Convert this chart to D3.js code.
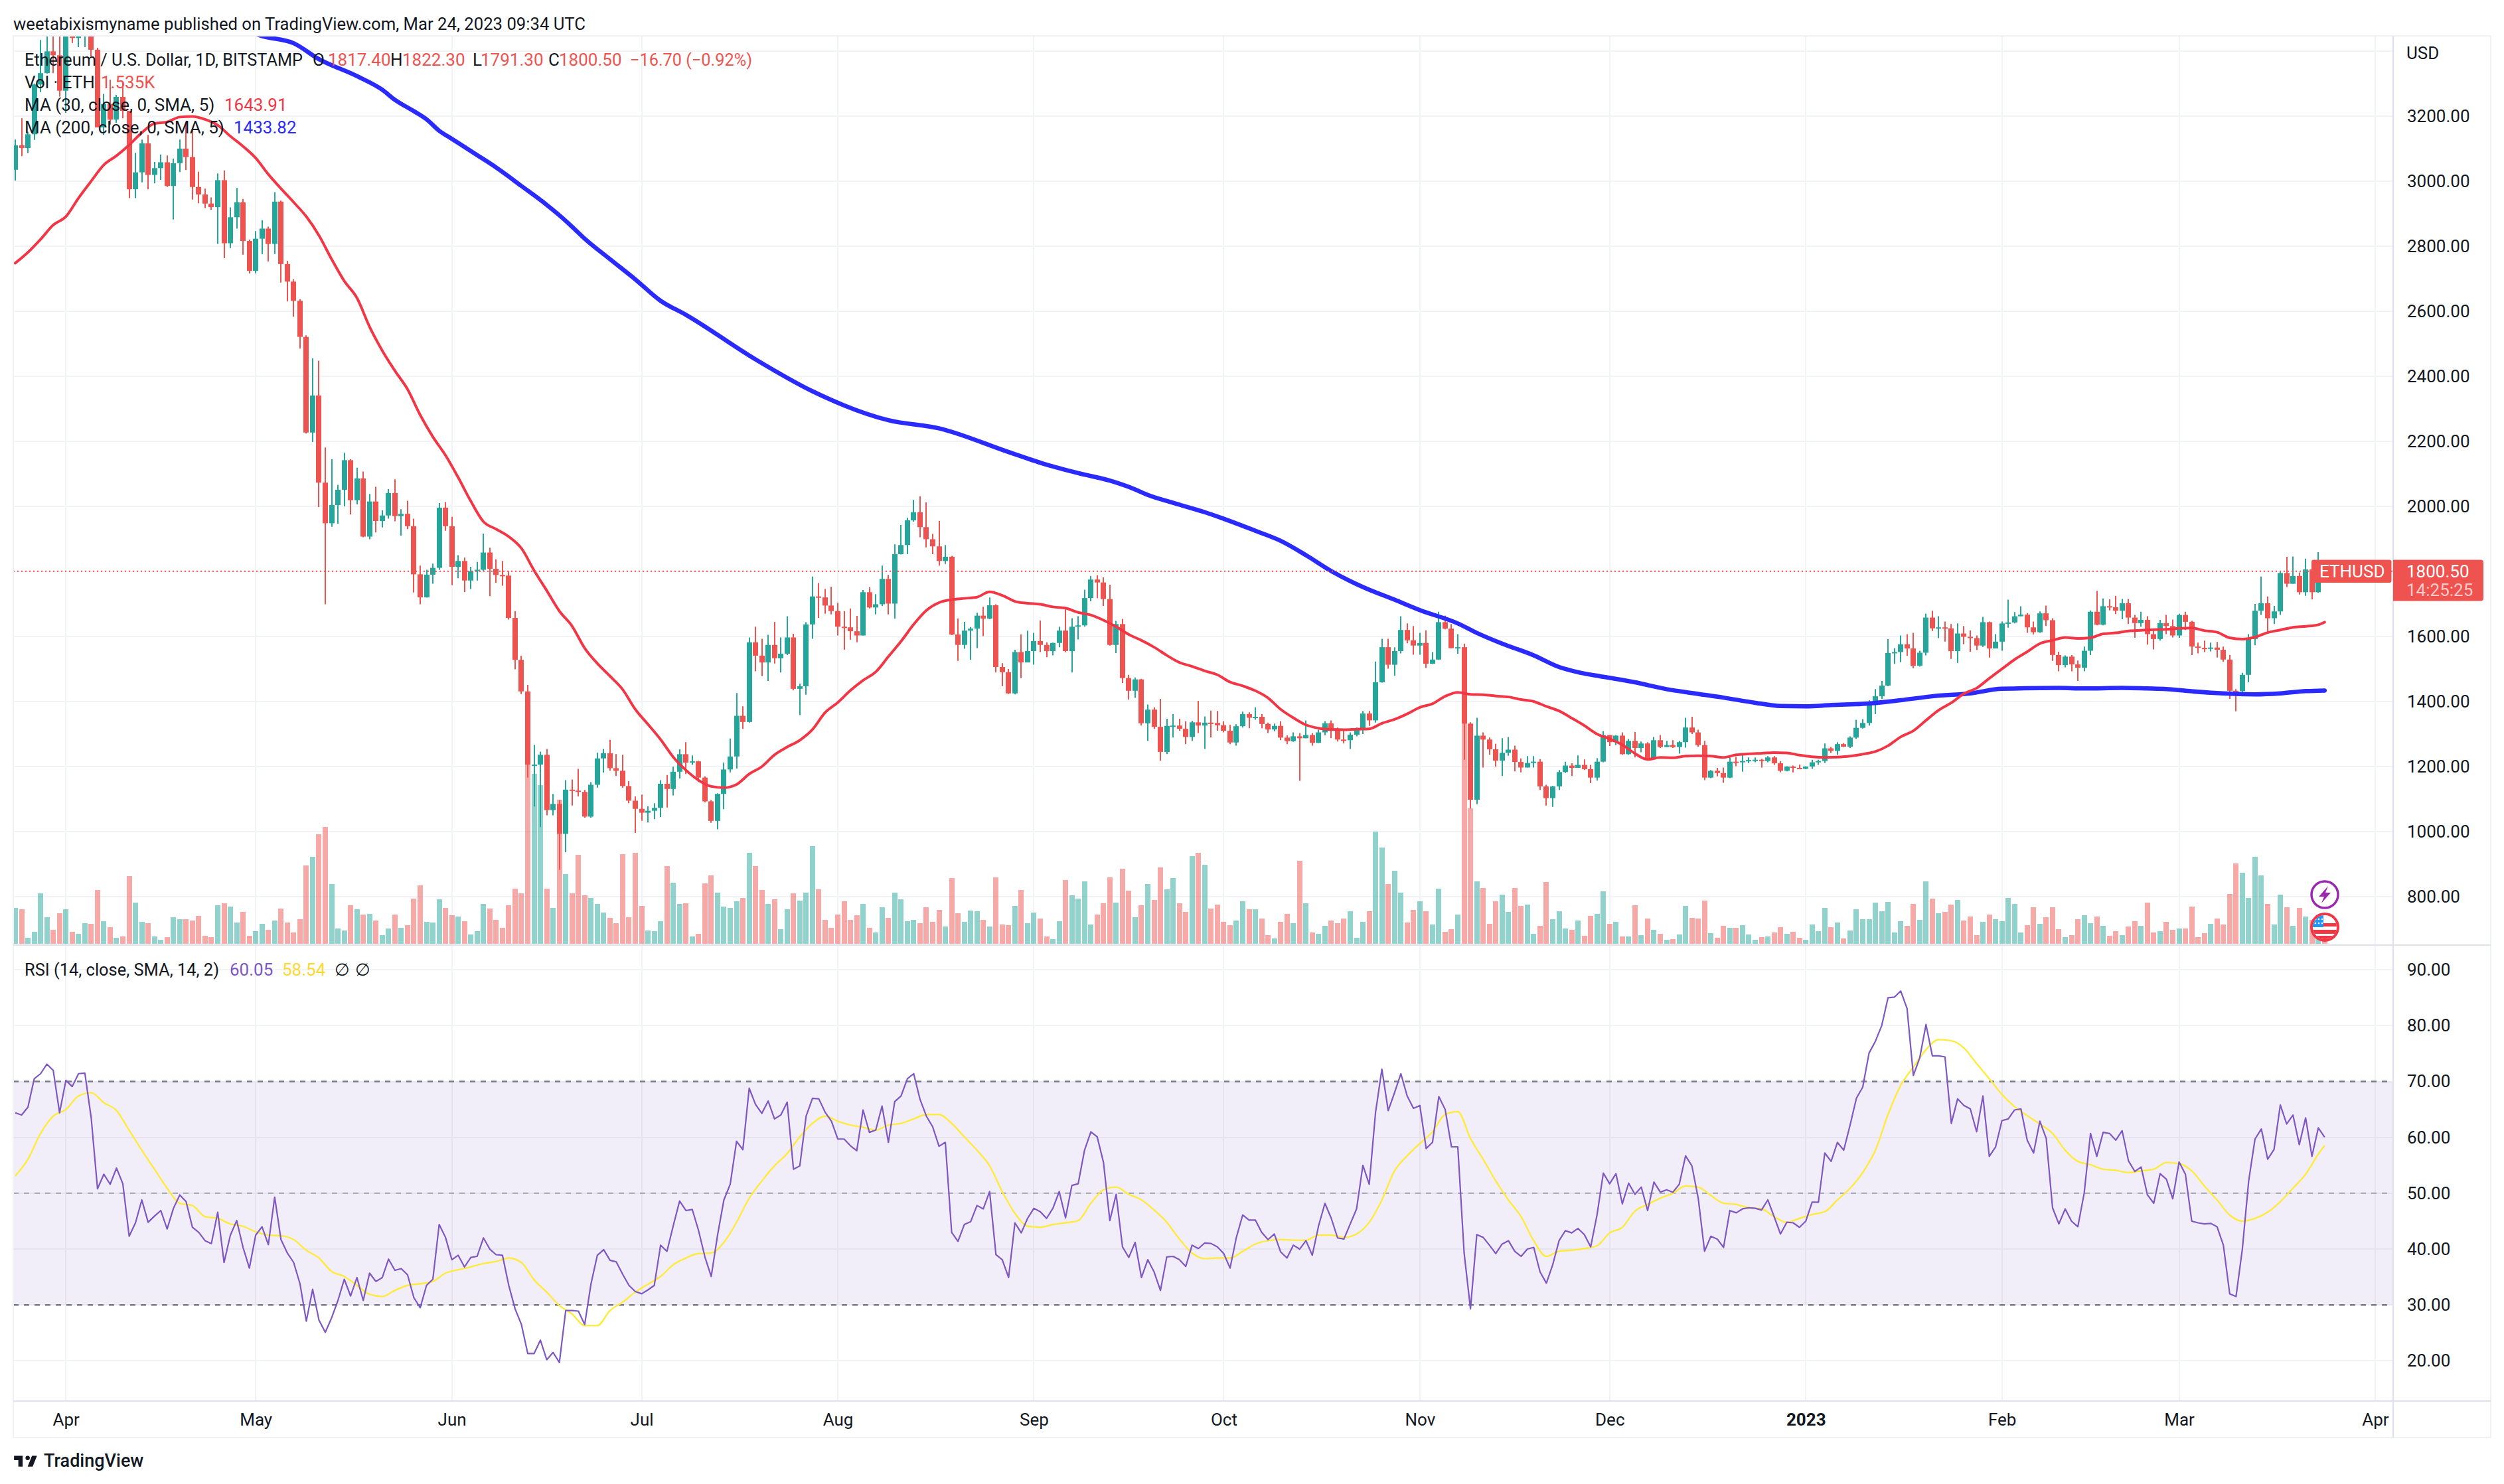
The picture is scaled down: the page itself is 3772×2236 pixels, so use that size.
<!DOCTYPE html>
<html><head><meta charset="utf-8">
<style>html,body{margin:0;padding:0;background:#fff}svg{display:block}text{font-family:Roboto,"Liberation Sans",sans-serif;fill:#131722}</style>
<script src="https://cdnjs.cloudflare.com/ajax/libs/d3/7.8.5/d3.min.js"></script>
</head><body><svg id="c" width="3772" height="2236"></svg>
<script>
const closes=[3110,3102,3144,3297,3332,3399,3387,3278,3455,3440,
3520,3522,3404,3165,3237,3189,3259,3216,2975,3027,
3116,3019,3040,3058,2985,3055,3100,3074,2982,2959,
2931,2920,3003,2809,2889,2935,2816,2724,2823,2854,
2807,2937,2745,2691,2632,2521,2227,2341,2073,1948,
2004,2051,2142,2019,2086,1907,2015,1955,1972,2041,
1970,1977,1939,1791,1720,1790,1811,1996,1939,1814,
1832,1772,1801,1805,1858,1808,1789,1787,1657,1528,
1431,1205,1206,1236,1066,1085,993,1129,1126,1122,
1046,1144,1225,1241,1195,1187,1140,1095,1070,1058,
1064,1073,1147,1131,1184,1238,1212,1216,1166,1093,
1033,1116,1191,1231,1356,1337,1582,1541,1520,1574,
1533,1547,1597,1439,1447,1637,1723,1720,1695,1678,
1630,1628,1616,1603,1736,1689,1699,1777,1701,1853,
1881,1957,1982,1936,1899,1877,1832,1845,1606,1574,
1618,1624,1664,1655,1696,1506,1490,1425,1552,1520,
1555,1586,1574,1555,1580,1618,1555,1630,1634,1718,
1775,1766,1715,1574,1638,1472,1433,1468,1333,1375,
1322,1245,1325,1326,1316,1291,1336,1326,1335,1334,
1327,1310,1274,1324,1361,1350,1353,1331,1314,1325,
1289,1278,1293,1287,1297,1273,1305,1333,1310,1283,
1281,1298,1316,1363,1342,1459,1567,1513,1555,1620,
1588,1572,1580,1516,1529,1644,1624,1564,1567,1332,
1098,1295,1283,1253,1218,1242,1252,1214,1197,1211,
1215,1139,1103,1139,1183,1203,1196,1205,1192,1166,
1215,1297,1275,1295,1238,1279,1257,1271,1222,1281,
1260,1266,1260,1275,1320,1305,1266,1166,1187,1180,
1166,1215,1213,1217,1220,1221,1217,1228,1210,1187,
1200,1196,1193,1200,1213,1217,1256,1248,1269,1261,
1289,1319,1334,1389,1416,1449,1549,1552,1576,1563,
1510,1550,1658,1625,1628,1625,1555,1609,1599,1595,
1572,1644,1563,1584,1640,1643,1662,1667,1628,1613,
1671,1650,1543,1512,1538,1514,1504,1556,1676,1636,
1693,1690,1679,1702,1658,1641,1651,1607,1592,1641,
1632,1603,1666,1645,1569,1565,1564,1566,1559,1529,
1433,1432,1482,1592,1679,1702,1656,1677,1795,1762,
1786,1736,1806,1736,1817.4,1800.5];
const firstOpen=3035;
const highs=[3128,3193,3152,3300,3434,3480,3480,3480,3475,3480,
3535,3535,3530,3410,3268,3312,3265,3305,3210,3087,
3128,3142,3059,3082,3079,3069,3128,3182,3162,3029,
2977,2950,3024,3033,2919,2979,2945,2820,2846,2880,
2860,2966,2940,2755,2698,2637,2526,2455,2448,2181,
2145,2066,2165,2145,2119,2107,2038,2060,1988,2053,
2083,1991,2017,1962,1818,1805,1824,2010,2013,1968,
1850,1843,1814,1829,1916,1873,1837,1832,1801,1678,
1541,1451,1267,1246,1254,1116,1097,1158,1160,1193,
1128,1152,1243,1254,1282,1238,1236,1155,1108,1114,
1078,1087,1158,1174,1200,1253,1275,1234,1218,1170,
1097,1118,1212,1286,1426,1385,1597,1630,1593,1605,
1645,1597,1662,1608,1455,1644,1784,1764,1746,1753,
1704,1678,1686,1663,1743,1751,1730,1818,1789,1883,
1943,1965,2020,2031,2012,1915,1955,1881,1848,1655,
1645,1629,1673,1691,1720,1699,1518,1500,1559,1606,
1618,1611,1649,1582,1581,1630,1684,1656,1662,1744,
1786,1788,1782,1759,1648,1654,1482,1474,1470,1391,
1382,1408,1347,1361,1347,1339,1341,1402,1354,1372,
1371,1339,1328,1330,1369,1367,1382,1361,1335,1332,
1339,1296,1305,1303,1342,1303,1313,1339,1342,1320,
1310,1305,1320,1371,1371,1523,1593,1593,1567,1662,
1640,1632,1611,1619,1552,1676,1664,1638,1607,1578,
1336,1350,1305,1289,1270,1287,1291,1264,1225,1232,
1232,1223,1144,1141,1189,1215,1210,1234,1222,1205,
1226,1309,1297,1297,1305,1285,1306,1277,1275,1291,
1297,1279,1281,1279,1350,1353,1313,1279,1189,1196,
1197,1228,1230,1238,1228,1228,1224,1232,1232,1217,
1201,1203,1206,1201,1221,1221,1271,1260,1275,1272,
1293,1344,1346,1404,1438,1463,1592,1564,1603,1607,
1611,1556,1670,1679,1662,1646,1638,1640,1632,1619,
1603,1660,1646,1607,1646,1713,1675,1693,1672,1646,
1677,1695,1656,1553,1542,1543,1526,1569,1680,1740,
1717,1714,1725,1715,1715,1666,1676,1662,1618,1651,
1666,1652,1670,1676,1648,1581,1587,1581,1583,1569,
1543,1438,1488,1607,1700,1784,1723,1694,1800,1845,
1846,1797,1839,1830,1859,1822.3];
const lows=[3002,3077,3086,3127,3274,3331,3332,3260,3210,3425,
3412,3412,3383,3165,3142,3174,3179,3193,2948,2948,
2996,2975,2993,3004,2982,2882,3028,3034,2943,2932,
2917,2912,2807,2763,2794,2854,2774,2716,2716,2776,
2753,2776,2688,2630,2583,2485,2224,2198,1998,1699,
1937,1947,2000,1975,2006,1905,1899,1920,1935,1962,
1954,1910,1930,1735,1699,1720,1762,1805,1925,1758,
1779,1736,1746,1772,1801,1724,1765,1756,1652,1499,
1423,1166,1077,1014,1050,1050,882,936,1080,1108,
1043,1043,1135,1181,1187,1171,1135,1087,996,1033,
1028,1038,1045,1074,1111,1163,1177,1205,1152,1090,
1027,1007,1069,1182,1194,1316,1335,1493,1478,1463,
1517,1489,1543,1434,1358,1421,1593,1657,1670,1668,
1603,1559,1590,1582,1603,1686,1668,1694,1668,1655,
1852,1853,1953,1905,1874,1853,1818,1823,1604,1525,
1562,1528,1564,1601,1653,1489,1447,1423,1422,1472,
1521,1513,1552,1536,1542,1567,1552,1489,1591,1630,
1708,1718,1694,1572,1549,1457,1406,1411,1326,1279,
1316,1218,1238,1289,1310,1269,1279,1303,1254,1289,
1310,1305,1269,1264,1320,1318,1344,1318,1303,1308,
1281,1269,1276,1156,1287,1264,1272,1296,1287,1277,
1271,1254,1293,1300,1325,1335,1458,1501,1479,1548,
1579,1544,1544,1503,1515,1528,1622,1563,1547,1221,
1071,1084,1197,1236,1200,1171,1233,1185,1182,1197,
1197,1128,1080,1076,1128,1180,1171,1197,1189,1149,
1157,1213,1263,1266,1236,1236,1228,1244,1219,1227,
1257,1260,1257,1240,1258,1300,1261,1158,1164,1170,
1150,1164,1201,1184,1210,1213,1197,1213,1205,1182,
1185,1182,1192,1192,1193,1205,1211,1242,1236,1260,
1257,1285,1317,1326,1361,1408,1447,1516,1521,1541,
1502,1507,1542,1617,1595,1584,1531,1519,1576,1553,
1558,1568,1535,1563,1556,1627,1640,1662,1611,1606,
1611,1632,1525,1493,1505,1493,1463,1493,1543,1634,
1634,1680,1669,1653,1638,1596,1630,1575,1560,1587,
1607,1597,1596,1620,1543,1548,1552,1554,1535,1522,
1408,1370,1416,1459,1573,1666,1615,1638,1666,1752,
1762,1729,1725,1714,1734,1791.3];
const volumes=[54,52,9,18,76,40,21,46,52,18,
15,31,30,81,34,25,9,11,102,62,
33,31,11,6,10,40,37,37,35,42,
12,10,58,61,56,32,48,12,19,30,
21,35,53,32,17,37,118,131,165,176,
90,23,20,58,52,44,45,35,13,23,
44,24,28,68,88,33,32,67,54,43,
41,34,14,19,60,53,36,24,58,83,
76,269,256,239,83,54,217,105,76,134,
73,69,60,47,39,31,135,40,137,57,
20,19,34,117,92,60,61,11,15,91,
103,77,56,54,64,69,137,117,81,60,
67,22,52,76,65,77,147,82,36,24,
44,64,36,43,60,24,17,55,39,77,
67,34,36,31,55,33,51,26,99,46,
33,50,49,36,26,100,29,28,57,81,
31,47,38,11,7,34,96,73,68,94,
29,44,61,100,62,113,80,40,58,90,
66,115,82,99,61,48,132,137,119,53,
59,33,28,35,64,52,52,38,13,8,
33,45,31,125,61,17,15,27,35,31,
38,49,9,33,49,169,145,90,110,77,
32,51,64,49,29,83,18,22,44,340,
204,94,84,30,64,74,48,84,57,59,
15,27,93,37,49,23,21,35,12,42,
45,79,30,33,11,11,58,13,38,21,
15,6,7,14,57,39,38,65,16,9,
27,24,24,28,14,6,10,11,17,25,
15,18,9,6,29,19,54,25,32,8,
20,52,37,37,62,49,63,17,34,27,
60,36,94,68,46,48,59,66,35,41,
13,33,44,37,34,69,60,17,28,55,
30,40,55,22,10,13,37,43,31,41,
27,12,19,13,26,34,27,62,17,19,
33,21,23,23,56,10,16,30,38,29,
75,121,107,69,131,103,60,29,74,55,
27,54,41,36,21,4];
const rsi=[64.4,64,65.4,70.5,71.4,73.1,72,64.4,70.2,69.1,
71.4,71.5,63.5,50.8,53.4,51.6,54.5,51.7,42.3,44.7,
48.8,44.8,45.9,46.9,43.6,47.3,49.7,48.5,43.9,43,
41.5,41,46.6,37.6,42.5,45.1,40.3,36.6,42.5,44,
40.8,49.3,41.7,39.3,37.6,33.8,27.1,32.8,27.3,25.1,
27.7,30.8,34.6,31.6,34.9,30.8,35.7,34.2,34.9,38.2,
36.2,36.5,35.4,31.3,29.5,33.5,34.6,44.4,42.1,38.1,
38.9,36.8,38.5,38.7,42,40,39,38.9,33.5,29.3,
26.5,21.3,21.3,23.7,20.2,21.5,19.7,29,29,28.9,
26.5,33.8,38.9,39.9,38,37.7,35.5,33.5,32.4,32,
32.7,33.5,40.7,39.6,44.2,48.6,46.9,47.1,43.3,38.6,
35.1,42.5,48.8,51.6,59.3,57.8,68.8,65.9,64.3,66.5,
63.3,64,66.3,54.3,54.9,63.8,67,66.9,64.5,62.9,
59.7,59.7,58.5,57.6,64.9,60.9,61.3,65.6,59.1,66.4,
67.4,70.5,71.4,66.8,63.8,61.9,58.4,59.1,43,41.4,
44.4,44.9,47.8,47.2,50.3,39,38.1,34.9,44.7,42.9,
45.5,47.3,46.7,45.5,47.3,50.3,45.6,51.4,51.7,57.7,
61,60.1,55.5,45.1,49.8,40.4,38.5,41.2,34.9,38.1,
35.9,32.6,38.6,38.7,38.1,36.9,40.7,40.1,41.1,41,
40.4,39.2,36.6,42.1,46.1,45.2,45.2,43,41.7,42.7,
39.5,38.4,40.7,40,41.5,38.9,44.2,48.2,45.5,42,
41.8,44.5,47.2,55,51.6,64.5,72.2,64.8,68,71.4,
67.4,65.2,65.7,58,59.1,67.3,65,58.3,58.3,39.3,
29.3,42.6,42.1,40.7,39.2,40.9,41.5,39.6,38.7,40,
40.3,35.9,33.9,37.2,41.5,43.3,42.9,43.7,42.6,40.4,
46.1,53.6,51.7,53.5,48.1,51.8,49.8,51.1,46.9,52,
50.2,50.6,50.2,51.6,56.7,54.9,49.1,39.6,42.3,41.8,
40.3,46.9,46.5,47.2,47.4,47.3,47,48.8,45.8,42.7,
44.8,44.7,43.9,45,48.4,48.4,57.2,55.7,59.1,57.7,
62.2,67,69,75.1,77.2,80,85,85.1,86.2,83.1,
71.1,74.2,80.2,74.6,74.6,74.4,62.5,66.9,65.7,65.1,
61,67.4,56.6,58.3,63,63.3,64.9,65.1,59.5,57.2,
62.9,59.8,47.4,44.5,47.2,45,44,50,60.7,56.6,
60.9,60.7,59.5,61.2,55.8,53.9,54.7,49.7,48.2,53.5,
52.5,49,55.6,53.4,45,44.7,44.5,44.6,44,40.7,
32,31.5,40,52.2,59.7,61.5,56.1,57.8,65.8,62.4,
64,58.7,63.5,56.6,61.7,60.05];
// read every second day; the last entry is the final day
const rsiMA=[53.1,56.1,60.7,63.8,65,67.4,68,66.2,64.8,61.3,
57.7,54.3,50.9,48.2,47.8,45.8,45.5,44.5,44.1,43.1,
42.5,42.4,41.7,39.8,38.4,36,35.1,33.5,31.9,31.5,
32.6,33.5,33.8,34.2,35.7,36.3,36.8,37.4,37.8,38.4,
37.6,34.5,32.3,29.9,28.4,26.3,26.3,29,30.5,32.3,
33.7,35.1,37.2,38.4,39.2,39.3,41.2,44.8,49.1,52.2,
54.9,57.1,60.1,62.5,63.8,62.9,62.2,61.8,61.3,62.2,
62.5,63.3,64.1,64.1,62.5,60.1,57.7,54.9,50.3,46.4,
44.1,43.9,44.4,44.7,45.1,48.2,50.6,51.1,49.8,48.8,
47,44.8,41.8,39.3,38.3,38.4,38.4,39.6,40.9,41.5,
41.7,41.6,41.6,42.5,42.5,42.1,42.7,44.8,48.8,54,
56.7,58.9,61,64.1,64.6,59.8,56.1,52.2,48.8,45.8,
41.5,38.7,39.6,39.8,40.1,40.6,42.9,43.9,46.8,48,
49.1,50,51.3,51.1,49.6,48.2,48,47.4,47.2,45.8,
44.8,45.5,46.2,46.7,48.8,50.9,53.7,57.7,64.1,69.3,
72.6,75.7,77.5,77.3,76,73.2,70.5,67.7,65.5,63.9,
62.4,60.7,57.7,55.7,55.1,54.3,54.1,53.7,54,54.3,
55.5,55.3,54,51.3,48.8,46.1,45,45.5,46.6,48.5,
50.9,53.4,57,58.54];
const ma30=[2748,2781,2821,2865,2891,2948,3000,3050,3078,3111,
3149,3177,3182,3197,3199,3190,3172,3138,3107,3071,
3021,2977,2935,2891,2833,2760,2693,2641,2552,2479,
2417,2360,2281,2214,2157,2089,2016,1953,1930,1907,
1871,1803,1741,1678,1632,1564,1517,1478,1437,1376,
1330,1283,1229,1189,1158,1139,1135,1145,1177,1200,
1236,1260,1281,1314,1366,1397,1434,1465,1491,1538,
1585,1637,1680,1704,1713,1717,1721,1737,1726,1708,
1702,1699,1691,1687,1674,1666,1650,1630,1606,1588,
1567,1542,1520,1508,1494,1482,1460,1448,1433,1411,
1376,1350,1328,1318,1314,1313,1315,1316,1333,1345,
1362,1382,1393,1416,1428,1422,1421,1417,1414,1406,
1400,1385,1371,1349,1326,1300,1285,1267,1240,1222,
1228,1227,1232,1233,1232,1228,1236,1239,1241,1243,
1242,1235,1230,1228,1229,1232,1238,1246,1264,1291,
1310,1342,1373,1396,1424,1441,1471,1500,1529,1553,
1578,1588,1597,1594,1596,1608,1611,1617,1619,1621,
1622,1625,1626,1618,1613,1596,1592,1598,1612,1620,
1628,1631,1636,1643.91];
const ma200Days=[38,39,44,48,54,58,60,63,65,67,69,73,76,80,84,86,88,90,94,98,102,106,117,126,138,146,157,163,168,173,177,179,183,188,191,196,200,204,208,213,218,222,228,231,235,240,244,247,251,256,261,265,270,275,279,283,287,293,298,303,309,314,323,327,333,337,340,343,347,354,358,362,365];
const ma200=[3452,3446,3424,3375,3323,3281,3250,3215,3190,3155,3130,3080,3042,2985,2927,2895,2860,2823,2760,2698,2632,2589,2452,2354,2265,2240,2167,2128,2102,2079,2052,2035,2011,1982,1962,1925,1894,1850,1801,1752,1713,1681,1640,1611,1578,1542,1506,1490,1476,1459,1438,1426,1412,1396,1386,1385,1389,1394,1404,1416,1425,1439,1442,1440,1442,1440,1438,1433,1427,1422,1425,1432,1433.82];
const priceTicks=[800,1000,1200,1400,1600,1800,2000,2200,2400,2600,2800,3000,3200];
const priceGrid=[...priceTicks,3400];
const rsiTicks=[20,30,40,50,60,70,80,90];
const timeTicks=[[2022,3,"Apr"],[2022,4,"May"],[2022,5,"Jun"],[2022,6,"Jul"],[2022,7,"Aug"],[2022,8,"Sep"],[2022,9,"Oct"],[2022,10,"Nov"],[2022,11,"Dec"],[2023,0,"2023"],[2023,1,"Feb"],[2023,2,"Mar"],[2023,3,"Apr"]];

const GREEN="#26a69a",RED="#ef5350",L=20,R=3605,T=54,MB=1424,RB=2111,OR=3752,OB=2166;
const start=new Date(Date.UTC(2022,2,24));
const dayOf=i=>d3.utcDay.offset(start,i);
const x=d3.scaleUtc().domain([start,new Date(Date.UTC(2023,3,1))]).range([23,3578]);
const yP=d3.scaleLinear().domain([800,3200]).range([1351,174.9]);
const yV=d3.scaleLinear().domain([0,340]).range([1422,1082]);
const yR=d3.scaleLinear().domain([20,90]).range([2050.4,1461.2]);
const svg=d3.select("#c");
const defs=svg.append("defs");
defs.append("clipPath").attr("id","mainClip").append("rect").attr("x",L).attr("y",T).attr("width",R-L).attr("height",MB-T);
defs.append("clipPath").attr("id","rsiClip").append("rect").attr("x",L).attr("y",MB).attr("width",R-L).attr("height",RB-MB);
svg.append("rect").attr("width",3772).attr("height",2236).attr("fill","#fff");

const gridC="#f2f3f6";
const grid=svg.append("g").attr("stroke",gridC).attr("stroke-width",2);
timeTicks.forEach(t=>{const d=new Date(Date.UTC(t[0],t[1],1));
  grid.append("line").attr("x1",Math.round(x(d))).attr("x2",Math.round(x(d))).attr("y1",T).attr("y2",RB);});
priceGrid.forEach(v=>grid.append("line").attr("x1",L).attr("x2",R).attr("y1",Math.round(yP(v))).attr("y2",Math.round(yP(v))));
rsiTicks.forEach(v=>grid.append("line").attr("x1",L).attr("x2",R).attr("y1",Math.round(yR(v))).attr("y2",Math.round(yR(v))));

// RSI pane
const rp=svg.append("g").attr("clip-path","url(#rsiClip)");
rp.append("rect").attr("x",L).attr("width",R-L).attr("y",yR(70)).attr("height",yR(30)-yR(70)).attr("fill","#7e57c2").attr("fill-opacity",.1);
[[70,1],[50,.55],[30,1]].forEach(b=>rp.append("line").attr("x1",L).attr("x2",R).attr("y1",yR(b[0])).attr("y2",yR(b[0])).attr("stroke","#787b86").attr("stroke-width",2.4).attr("stroke-opacity",b[1]).attr("stroke-dasharray","8 8"));
const rsiLine=d3.line().x((d,i)=>x(dayOf(i))).y(d=>yR(d));
const rsiMADays=rsiMA.map((d,i)=>i===rsiMA.length-1?365:i*2);
rp.append("path").attr("d",d3.line().x((d,i)=>x(dayOf(rsiMADays[i]))).y(d=>yR(d)).curve(d3.curveMonotoneX)(rsiMA)).attr("fill","none").attr("stroke","#ffeb3b").attr("stroke-width",2.4);
rp.append("path").attr("d",rsiLine(rsi)).attr("fill","none").attr("stroke","#7e57c2").attr("stroke-width",2.2).attr("stroke-linejoin","round");

// Main pane
const mp=svg.append("g").attr("clip-path","url(#mainClip)");
const opens=closes.map((c,i)=>i===0?firstOpen:closes[i-1]);
const isUp=i=>closes[i]>=opens[i];
mp.append("g").selectAll("rect").data(volumes).join("rect")
  .attr("x",(d,i)=>Math.round(x(dayOf(i)))-4).attr("width",8)
  .attr("y",d=>yV(d)).attr("height",d=>yV(0)-yV(d))
  .attr("fill",(d,i)=>isUp(i)?GREEN:RED).attr("fill-opacity",.5);
const cg=mp.append("g");
cg.selectAll("line").data(closes).join("line")
  .attr("x1",(d,i)=>Math.round(x(dayOf(i)))).attr("x2",(d,i)=>Math.round(x(dayOf(i))))
  .attr("y1",(d,i)=>yP(highs[i])).attr("y2",(d,i)=>yP(lows[i]))
  .attr("stroke",(d,i)=>isUp(i)?GREEN:RED).attr("stroke-width",2);
cg.selectAll("rect").data(closes).join("rect")
  .attr("x",(d,i)=>Math.round(x(dayOf(i)))-4).attr("width",8)
  .attr("y",(d,i)=>yP(Math.max(opens[i],d)))
  .attr("height",(d,i)=>Math.max(2,Math.abs(yP(opens[i])-yP(d))))
  .attr("fill",(d,i)=>isUp(i)?GREEN:RED);
const ma30Days=ma30.map((d,i)=>i===ma30.length-1?365:i*2);
mp.append("path").attr("d",d3.line().x((d,i)=>x(dayOf(ma200Days[i]))).y(d=>yP(d)).curve(d3.curveMonotoneX)(ma200)).attr("fill","none").attr("stroke","#2a2aff").attr("stroke-width",6.5).attr("stroke-linecap","round");
mp.append("path").attr("d",d3.line().x((d,i)=>x(dayOf(ma30Days[i]))).y(d=>yP(d)).curve(d3.curveMonotoneX)(ma30)).attr("fill","none").attr("stroke","#f23645").attr("stroke-width",4).attr("stroke-linecap","round");
const lastClose=closes[closes.length-1];
mp.append("line").attr("x1",L).attr("x2",R).attr("y1",yP(lastClose)).attr("y2",yP(lastClose)).attr("stroke",RED).attr("stroke-width",2).attr("stroke-dasharray","2 4");

// Frame
const fr=svg.append("g").attr("fill","none");
fr.append("path").attr("d",`M${L} ${OB}V${T}H${OR}V${OB}H${L}`).attr("stroke","#f0f1f5").attr("stroke-width",2);
fr.append("line").attr("x1",R).attr("x2",R).attr("y1",T).attr("y2",OB).attr("stroke","#e0e3eb").attr("stroke-width",2.4);
fr.append("line").attr("x1",L).attr("x2",OR).attr("y1",MB).attr("y2",MB).attr("stroke","#e0e3eb").attr("stroke-width",2.4);
fr.append("line").attr("x1",L).attr("x2",OR).attr("y1",RB).attr("y2",RB).attr("stroke","#e0e3eb").attr("stroke-width",2.4);

// Axes
const FS=26;
const style=g=>{g.select(".domain").remove();g.selectAll("line").remove();g.selectAll("text").attr("font-size",FS).attr("fill","#131722").style("fill","#131722");};
svg.append("g").attr("transform",`translate(${R},0)`).call(d3.axisRight(yP).tickValues(priceTicks).tickFormat(d3.format(".2f")).tickSize(0).tickPadding(21)).call(style);
svg.append("g").attr("transform",`translate(${R},0)`).call(d3.axisRight(yR).tickValues(rsiTicks).tickFormat(d3.format(".2f")).tickSize(0).tickPadding(21)).call(style);
const tickDates=timeTicks.map(t=>new Date(Date.UTC(t[0],t[1],1)));
svg.append("g").attr("transform",`translate(0,${RB})`).call(d3.axisBottom(x).tickValues(tickDates).tickFormat((d,i)=>timeTicks[i][2]).tickSize(0).tickPadding(19)).call(style)
  .selectAll("text").attr("font-weight",d=>d.getUTCFullYear()===2023&&d.getUTCMonth()===0?700:400);
const tx=(s,xp,yp,col,opt={})=>{const t=svg.append("text").attr("x",xp).attr("y",yp).attr("font-size",opt.fs||FS).style("fill",col||"#131722").text(s);if(opt.w)t.attr("font-weight",opt.w);if(opt.op)t.attr("fill-opacity",opt.op).style("fill-opacity",opt.op);if(opt.len)t.attr("textLength",opt.len).attr("lengthAdjust","spacingAndGlyphs");return t;};
tx("USD",3625,89);

// Price labels
svg.append("rect").attr("x",3482).attr("y",843.5).attr("width",120.5).attr("height",34.5).attr("rx",3).attr("fill",RED);
tx("ETHUSD",3494,870,"#fff");
svg.append("path").attr("d","M3605 843.5H3737a4 4 0 0 1 4 4V901.5a4 4 0 0 1-4 4H3605Z").attr("fill",RED);
tx(d3.format(".2f")(lastClose),3625,870,"#fff");
tx("14:25:25",3625,898,"#fff",{op:.7});

// Icons
const ic=svg.append("g").attr("transform","translate(3502,1348)");
ic.append("circle").attr("r",20).attr("fill","#fff").attr("stroke","#9c27b0").attr("stroke-width",3.5);
ic.append("path").attr("d","M5 -13L-9 3H-1L-5 13L9 -3H1Z").attr("fill","#9c27b0");
defs.append("clipPath").attr("id","fl").append("circle").attr("r",18);
const fg=svg.append("g").attr("transform","translate(3502,1397)");
fg.append("circle").attr("r",20).attr("fill","#fff").attr("stroke","#f23645").attr("stroke-width",4);
const ff=fg.append("g").attr("clip-path","url(#fl)");
[[-6,5],[4,6],[13,7]].forEach(s=>ff.append("rect").attr("x",-18).attr("width",36).attr("y",s[0]).attr("height",s[1]).attr("fill","#f23645"));
ff.append("rect").attr("x",-18).attr("width",16).attr("y",-18).attr("height",18).attr("fill","#2196f3");
[[-14,-12],[-9,-12],[-4,-12],[-14,-6],[-9,-6],[-4,-6]].forEach(p=>ff.append("circle").attr("cx",p[0]).attr("cy",p[1]).attr("r",1.3).attr("fill","#fff"));

// Header and legend
tx("weetabixismyname published on TradingView.com, Mar 24, 2023 09:34 UTC",20,45,null,{len:862});
tx("Ethereum / U.S. Dollar, 1D, BITSTAMP",37,99,null,{len:419});
[["O",471,"1817.40",494],["H",588,"1822.30",606],["L",712,"1791.30",724],["C",826,"1800.50",842]].forEach(a=>{tx(a[0],a[1],99);tx(a[2],a[3],99,RED);});
tx("−16.70 (−0.92%)",949,99,RED,{len:184});
tx("Vol · ETH",37,133);tx("1.535K",152,133,RED);
tx("MA (30, close, 0, SMA, 5)",37,167);tx("1643.91",338,167,"#f23645");
tx("MA (200, close, 0, SMA, 5)",37,201);tx("1433.82",352,201,"#2a2aff");
tx("RSI (14, close, SMA, 14, 2)",37,1470,null,{len:293});tx("60.05",346,1470,"#7e57c2");tx("58.54",425,1470,"#fdd835");
tx("∅",504,1470);tx("∅",535,1470);

// Logo
svg.append("path").attr("transform","translate(19,2187) scale(1.08)").attr("d","M14 6H2v6h6v9h6V6zm14 15h-7l6-15h7l-6 15zm-7-9a3 3 0 1 0 0-6 3 3 0 0 0 0 6z").attr("fill","#131722");
tx("TradingView",66,2210,"#131722",{fs:27,w:500});
</script></body></html>
